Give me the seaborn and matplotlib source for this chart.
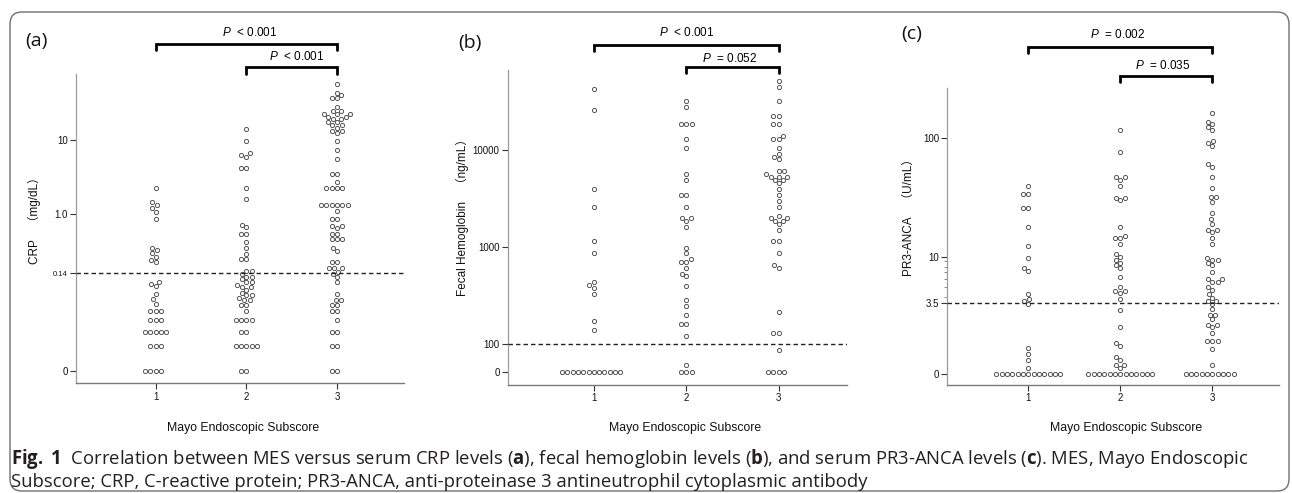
import numpy as np
import pandas as pd
import matplotlib.pyplot as plt
import seaborn as sns
from matplotlib.patches import FancyBboxPatch
from matplotlib.transforms import IdentityTransform, blended_transform_factory
from matplotlib.ticker import FixedLocator, NullLocator

sns.set_style("ticks")
plt.rcParams['font.family'] = ['Liberation Sans', 'Noto Sans CJK JP']
plt.rcParams['mathtext.fontset'] = 'custom'
plt.rcParams['mathtext.rm'] = 'Liberation Sans'
plt.rcParams['mathtext.it'] = 'Liberation Sans:italic'
plt.rcParams['mathtext.bf'] = 'Open Sans:bold'

mes_levels = ['1', '2', '3']

# (a) CRP, mg/dL
crp_mes1 = [2.28, 1.45, 1.34, 1.23, 1.09, 0.855, 0.329, 0.301, 0.275, 0.241, 0.221, 0.202,
            0.101, 0.0939, 0.0873, 0.0653, 0.0544, 0.046, 0.0357, 0.0357, 0.0357,
            0.0254, 0.0254, 0.0254, 0.0166, 0.0166, 0.0166, 0.0166, 0.0166,
            0.01, 0.01, 0.01, 0, 0, 0, 0]
crp_mes2 = [13.9, 9.6, 6.75, 6.22, 5.97, 4.24, 4.24, 2.28, 1.61, 0.701, 0.649, 0.525, 0.525,
            0.393, 0.322, 0.27, 0.223, 0.223, 0.151, 0.151, 0.137, 0.124, 0.124, 0.1125,
            0.102, 0.102, 0.0916, 0.0841, 0.0841, 0.0764, 0.0693, 0.0629, 0.0629, 0.0571,
            0.0531, 0.0531, 0.0448, 0.0448, 0.0357, 0.0254, 0.0254, 0.0254, 0.0254,
            0.0166, 0.0166, 0.01, 0.01, 0.01, 0.01, 0.01, 0, 0]
crp_mes3 = [56.7, 43.3, 39.9, 36.3, 36.3, 28.1, 24.5, 24.5, 22.4, 22.4, 22.4, 20.6, 20.6,
            19.0, 19.0, 17.3, 17.3, 15.9, 15.9, 14.7, 13.2, 13.2, 12.3, 9.6, 7.3, 5.5,
            3.52, 3.52, 2.72, 2.28, 2.28, 2.28, 2.28, 1.34, 1.34, 1.34, 1.34, 1.34, 1.34,
            1.11, 0.847, 0.847, 0.686, 0.686, 0.627, 0.519, 0.519, 0.435, 0.435, 0.435,
            0.329, 0.294, 0.202, 0.202, 0.167, 0.167, 0.167, 0.148, 0.137, 0.124, 0.101,
            0.0653, 0.0531, 0.0531, 0.0443, 0.0443, 0.0357, 0.0357, 0.0254, 0.0166, 0.0166,
            0.01, 0.01, 0, 0]

# (b) fecal hemoglobin, ng/mL
fhb_mes1 = [42100, 25800, 3970, 2590, 1140, 865, 435, 408, 383, 327, 173, 140,
            0, 0, 0, 0, 0, 0, 0, 0, 0, 0, 0, 0]
fhb_mes2 = [31700, 27500, 18400, 18400, 18400, 13000, 10600, 5620, 4880, 3450, 3450, 2590,
            1995, 1995, 1870, 1625, 988, 865, 750, 703, 703, 610, 534, 501, 398, 286, 250,
            200, 162, 162, 122, 26.2, 0, 0, 0]
fhb_mes3 = [51800, 44900, 31700, 22500, 22500, 18400, 18400, 13900, 13000, 13000, 10600,
            9160, 8530, 8010, 6030, 6030, 5620, 5320, 5320, 5320, 4910, 4910, 4540, 3970,
            3450, 2990, 2590, 2110, 1995, 1995, 1870, 1870, 1718, 1503, 1140, 1140, 865,
            650, 615, 217, 132, 132, 78.6, 0, 0, 0, 0]

# (c) PR3-ANCA, U/mL
pr3_mes1 = [39.8, 33.9, 33.9, 26.0, 26.0, 17.8, 12.2, 9.78, 7.67, 7.17, 4.32, 3.86, 3.67,
            3.45, 1.27, 0.97, 0.69, 0.28, 0, 0, 0, 0, 0, 0, 0, 0, 0, 0, 0, 0, 0]
pr3_mes2 = [117, 76.2, 46.8, 46.8, 44.5, 39.8, 31.5, 31.5, 30.1, 17.9, 15.0, 14.4, 14.4,
            12.8, 10.5, 9.85, 9.27, 8.73, 8.22, 7.73, 6.30, 4.99, 4.56, 4.56, 4.36, 3.80,
            3.17, 2.32, 1.51, 1.36, 0.85, 0.71, 0.44, 0.44, 0.28,
            0, 0, 0, 0, 0, 0, 0, 0, 0, 0, 0, 0, 0]
pr3_mes3 = [163, 138, 131, 124, 117, 95.5, 90.7, 85.5, 60.3, 57.6, 46.8, 37.8, 32.1, 32.1,
            29.2, 23.2, 20.8, 18.9, 16.9, 16.9, 16.1, 14.3, 12.9, 9.78, 9.27, 9.27, 8.73,
            8.22, 7.12, 5.98, 5.98, 5.63, 5.63, 5.07, 4.70, 4.29, 3.95, 3.67, 3.67, 3.45,
            3.19, 2.91, 2.91, 2.69, 2.42, 2.42, 2.30, 2.04, 1.64, 1.64, 1.64, 1.25, 0.43,
            0, 0, 0, 0, 0, 0, 0, 0, 0, 0]

crp_ticks, crp_ticklabels = [0, 0.14, 1, 10], ['0', '0.14', '1.0', '10']
fhb_ticks, fhb_ticklabels = [0, 100, 1000, 10000], ['0', '100', '1000', '10000']
pr3_ticks, pr3_ticklabels = [0, 3.5, 10, 100], ['0', '3.5', '10', '100']

p_labels_a = ['$P$  < 0.001', '$P$  < 0.001']
p_labels_b = ['$P$  < 0.001', '$P$  = 0.052']
p_labels_c = ['$P$  = 0.002', '$P$  = 0.035']

caption1 = (r'$\mathbf{Fig.\ 1}$  Correlation between MES versus serum CRP levels ($\mathbf{a}$), '
            r'fecal hemoglobin levels ($\mathbf{b}$), and serum PR3-ANCA levels ($\mathbf{c}$). '
            r'MES, Mayo Endoscopic')
caption2 = ('Subscore; CRP, C-reactive protein; PR3-ANCA, anti-proteinase 3 antineutrophil '
            'cytoplasmic antibody')


def knot_scale(vals, pos):
    # log-piecewise axis with a linear segment from 0 up to the first positive knot
    vals = np.asarray(vals, float)
    pos = np.asarray(pos, float)
    lv = np.log10(vals[1:])

    def fwd(v):
        v = np.asarray(v, float)
        u = np.interp(np.log10(np.maximum(v, vals[1])), lv, pos[1:])
        return np.where(v < vals[1], pos[0] + (pos[1] - pos[0]) * v / vals[1], u)

    def inv(u):
        u = np.asarray(u, float)
        v = 10 ** np.interp(u, pos[1:], lv)
        return np.where(u < pos[1], vals[1] * (u - pos[0]) / (pos[1] - pos[0]), v)

    return fwd, inv


W, H = 1292, 493
fig = plt.figure(figsize=(W / 100, H / 100), dpi=100)


def fy(y):
    return 1 - y / H


panels = [
    dict(rect=(76, 74, 404, 383.3), groups=(crp_mes1, crp_mes2, crp_mes3),
         knots=([0, 0.01, 0.14, 1, 10, 1000], [0, 76, 294, 471, 694, 1140]), ulim=(-36, 892),
         ticks=crp_ticks, labels=crp_ticklabels, cut=0.14, xlim=(-0.879, 2.739), minor=[],
         ylabel='CRP　（mg/dL）', ylab_xy=(34, 218), letter='(a)', let_xy=(36, 41),
         xlab_x=243, brackets=[(0, 2, 43.5, 50, 1.04, 33), (1, 2, 67, 73.5, 1.56, 57)],
         plabels=p_labels_a),
    dict(rect=(508, 70, 846.7, 385), groups=(fhb_mes1, fhb_mes2, fhb_mes3),
         knots=([0, 100, 1000, 10000, 1e6], [0, 84, 376, 667, 1250]), ulim=(-38, 907),
         ticks=fhb_ticks, labels=fhb_ticklabels, cut=100, xlim=(-0.928, 2.734), minor=[],
         ylabel='Fecal Hemoglobin　（ng/mL）', ylab_xy=(462, 215), letter='(b)', let_xy=(470, 43),
         xlab_x=685, brackets=[(0, 2, 45, 51, 1.0, 33), (1, 2, 66.5, 72.5, 1.47, 58)],
         plabels=p_labels_b),
    dict(rect=(947.3, 88.3, 1279, 385), groups=(pr3_mes1, pr3_mes2, pr3_mes3),
         knots=([0, 3.5, 10, 100, 1e4], [0, 213, 352, 707, 1417]), ulim=(-33, 857),
         ticks=pr3_ticks, labels=pr3_ticklabels, cut=3.5, xlim=(-0.88, 2.725),
         minor=[4, 5, 6, 7, 8, 9],
         ylabel='PR3-ANCA　（U/mL）', ylab_xy=(909, 214), letter='(c)', let_xy=(912, 34),
         xlab_x=1126, brackets=[(0, 2, 47, 53, 0.975, 35), (1, 2, 75.5, 81.5, 1.466, 65)],
         plabels=p_labels_c),
]

for p in panels:
    l, t, r, b = p['rect']
    ax = fig.add_axes([l / W, 1 - b / H, (r - l) / W, (b - t) / H])
    fwd, inv = knot_scale(*p['knots'])
    ax.set_yscale('function', functions=(fwd, inv))

    df = pd.DataFrame({
        'MES': np.repeat(mes_levels, [len(g) for g in p['groups']]),
        'value': np.concatenate([np.asarray(g, float) for g in p['groups']]),
    })
    sns.swarmplot(data=df, x='MES', y='value', order=mes_levels, ax=ax,
                  color='white', edgecolor='#4a4a4a', linewidth=0.65, size=3.0)

    ax.axhline(p['cut'], color='#222222', lw=1.0, ls=(0, (3.2, 2.2)), zorder=4)
    ax.set_xlim(*p['xlim'])
    ax.set_ylim(float(inv(p['ulim'][0])), float(inv(p['ulim'][1])))
    ax.set_yticks(p['ticks'])
    ax.set_yticklabels(p['labels'])
    if p['minor']:
        ax.yaxis.set_minor_locator(FixedLocator(p['minor']))
    else:
        ax.yaxis.set_minor_locator(NullLocator())
    ax.set_xlabel('')
    ax.set_ylabel('')
    sns.despine(ax=ax)
    ax.spines['left'].set_color('#9a9a9a')
    ax.spines['bottom'].set_color('#7a7a7a')
    ax.spines['left'].set_linewidth(0.9)
    ax.spines['bottom'].set_linewidth(1.0)
    ax.tick_params(axis='both', which='major', direction='out', length=4, width=0.8,
                   color='#333333', labelsize=7, pad=2, labelcolor='#111111')
    ax.tick_params(axis='y', which='minor', length=2, width=0.6, color='#777777')
    if p['cut'] == 0.14:
        ax.get_yticklabels()[1].set_fontsize(5.5)

    tr = blended_transform_factory(ax.transData, fig.transFigure)
    for (x0, x1, ybar, yleg, tx, ty), lab in zip(p['brackets'], p['plabels']):
        ax.plot([x0, x0, x1, x1], [fy(yleg), fy(ybar), fy(ybar), fy(yleg)], transform=tr,
                clip_on=False, color='black', lw=2.0, solid_joinstyle='miter')
        ax.text(tx, fy(ty), lab, transform=tr, ha='center', va='center', fontsize=8.5,
                color='black')

    fig.text(p['ylab_xy'][0] / W, fy(p['ylab_xy'][1]), p['ylabel'], rotation=90,
             ha='center', va='center', fontsize=8.5, color='#111111')
    fig.text(p['xlab_x'] / W, fy(428), 'Mayo Endoscopic Subscore', ha='center',
             va='center', fontsize=8.8, color='#111111')
    fig.text(p['let_xy'][0] / W, fy(p['let_xy'][1]), p['letter'], ha='center', va='center',
             fontsize=14, family='Open Sans', color='#111111')

# caption, sized so the first line spans the same width as in the figure
cap1 = fig.text(11 / W, fy(459), caption1, ha='left', va='center', fontsize=12,
                family='Open Sans', color='#231f20')
rend = fig.canvas.get_renderer()
fs = 12 * 1236 / cap1.get_window_extent(rend).width
cap1.set_fontsize(fs)
fig.text(11 / W, fy(482), caption2, ha='left', va='center', fontsize=fs,
         family='Open Sans', color='#231f20')

# rounded frame around the whole figure
frame = FancyBboxPatch((10, 2), 1279, H - 14, boxstyle='round,pad=0,rounding_size=12',
                       transform=IdentityTransform(), fill=False, ec='#6f6f6f', lw=1.0)
fig.patches.append(frame)

fig.savefig('out.png', dpi=100)
